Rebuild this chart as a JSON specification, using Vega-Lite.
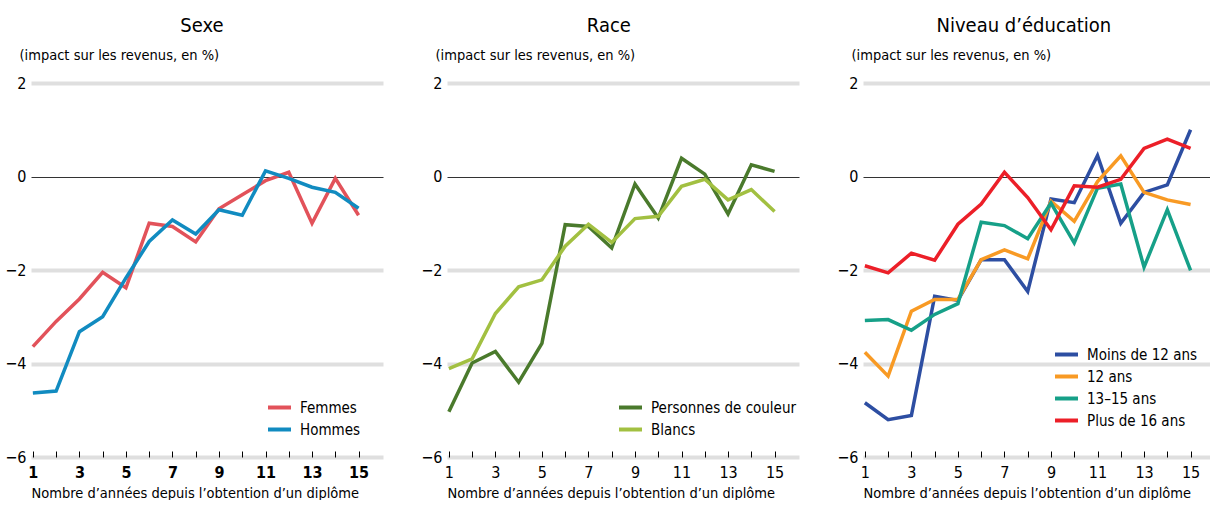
{
  "$schema": "https://vega.github.io/schema/vega-lite/v6.json",
  "padding": {"left": 4, "top": 16, "right": 0, "bottom": 0},
  "background": "white",
  "config": {
    "font": "Liberation Sans Narrow, DejaVu Sans Condensed, sans-serif",
    "view": {"stroke": null},
    "concat": {"spacing": 64},
    "title": {"fontSize": 20, "fontWeight": "normal", "color": "#000", "anchor": "middle", "frame": "bounds", "offset": 11},
    "axis": {"labelColor": "#000", "titleColor": "#000", "titleFontWeight": "normal"},
    "legend": {"labelFontSize": 15, "labelColor": "#000", "labelLimit": 400, "symbolType": "stroke", "symbolSize": 529, "symbolStrokeWidth": 4, "labelOffset": 7, "rowPadding": 0, "title": null, "orient": "none"}
  },
  "bounds": "flush",
  "resolve": {"scale": {"color": "independent", "x": "independent", "y": "independent"}, "legend": {"color": "independent"}},
  "datasets": {
    "sexe": [
      {"annee": 1, "groupe": "Femmes", "valeur": -3.64},
      {"annee": 2, "groupe": "Femmes", "valeur": -3.10},
      {"annee": 3, "groupe": "Femmes", "valeur": -2.62},
      {"annee": 4, "groupe": "Femmes", "valeur": -2.05},
      {"annee": 5, "groupe": "Femmes", "valeur": -2.38},
      {"annee": 6, "groupe": "Femmes", "valeur": -1.00},
      {"annee": 7, "groupe": "Femmes", "valeur": -1.07},
      {"annee": 8, "groupe": "Femmes", "valeur": -1.40},
      {"annee": 9, "groupe": "Femmes", "valeur": -0.69},
      {"annee": 10, "groupe": "Femmes", "valeur": -0.39},
      {"annee": 11, "groupe": "Femmes", "valeur": -0.09},
      {"annee": 12, "groupe": "Femmes", "valeur": 0.09},
      {"annee": 13, "groupe": "Femmes", "valeur": -1.00},
      {"annee": 14, "groupe": "Femmes", "valeur": -0.04},
      {"annee": 15, "groupe": "Femmes", "valeur": -0.83},
      {"annee": 1, "groupe": "Hommes", "valeur": -4.63},
      {"annee": 2, "groupe": "Hommes", "valeur": -4.59},
      {"annee": 3, "groupe": "Hommes", "valeur": -3.32},
      {"annee": 4, "groupe": "Hommes", "valeur": -3.00},
      {"annee": 5, "groupe": "Hommes", "valeur": -2.17},
      {"annee": 6, "groupe": "Hommes", "valeur": -1.39},
      {"annee": 7, "groupe": "Hommes", "valeur": -0.93},
      {"annee": 8, "groupe": "Hommes", "valeur": -1.23},
      {"annee": 9, "groupe": "Hommes", "valeur": -0.71},
      {"annee": 10, "groupe": "Hommes", "valeur": -0.83},
      {"annee": 11, "groupe": "Hommes", "valeur": 0.12},
      {"annee": 12, "groupe": "Hommes", "valeur": -0.04},
      {"annee": 13, "groupe": "Hommes", "valeur": -0.23},
      {"annee": 14, "groupe": "Hommes", "valeur": -0.34},
      {"annee": 15, "groupe": "Hommes", "valeur": -0.68}
    ],
    "race": [
      {"annee": 1, "groupe": "Personnes de couleur", "valeur": -5.03},
      {"annee": 2, "groupe": "Personnes de couleur", "valeur": -3.99},
      {"annee": 3, "groupe": "Personnes de couleur", "valeur": -3.74},
      {"annee": 4, "groupe": "Personnes de couleur", "valeur": -4.40},
      {"annee": 5, "groupe": "Personnes de couleur", "valeur": -3.57},
      {"annee": 6, "groupe": "Personnes de couleur", "valeur": -1.03},
      {"annee": 7, "groupe": "Personnes de couleur", "valeur": -1.07},
      {"annee": 8, "groupe": "Personnes de couleur", "valeur": -1.53},
      {"annee": 9, "groupe": "Personnes de couleur", "valeur": -0.16},
      {"annee": 10, "groupe": "Personnes de couleur", "valeur": -0.89},
      {"annee": 11, "groupe": "Personnes de couleur", "valeur": 0.39},
      {"annee": 12, "groupe": "Personnes de couleur", "valeur": 0.05},
      {"annee": 13, "groupe": "Personnes de couleur", "valeur": -0.80},
      {"annee": 14, "groupe": "Personnes de couleur", "valeur": 0.25},
      {"annee": 15, "groupe": "Personnes de couleur", "valeur": 0.11},
      {"annee": 1, "groupe": "Blancs", "valeur": -4.11},
      {"annee": 2, "groupe": "Blancs", "valeur": -3.90},
      {"annee": 3, "groupe": "Blancs", "valeur": -2.93},
      {"annee": 4, "groupe": "Blancs", "valeur": -2.36},
      {"annee": 5, "groupe": "Blancs", "valeur": -2.21},
      {"annee": 6, "groupe": "Blancs", "valeur": -1.49},
      {"annee": 7, "groupe": "Blancs", "valeur": -1.02},
      {"annee": 8, "groupe": "Blancs", "valeur": -1.41},
      {"annee": 9, "groupe": "Blancs", "valeur": -0.90},
      {"annee": 10, "groupe": "Blancs", "valeur": -0.85},
      {"annee": 11, "groupe": "Blancs", "valeur": -0.21},
      {"annee": 12, "groupe": "Blancs", "valeur": -0.06},
      {"annee": 13, "groupe": "Blancs", "valeur": -0.50},
      {"annee": 14, "groupe": "Blancs", "valeur": -0.28},
      {"annee": 15, "groupe": "Blancs", "valeur": -0.75}
    ],
    "educ": [
      {"annee": 1, "groupe": "Moins de 12 ans", "valeur": -4.84},
      {"annee": 2, "groupe": "Moins de 12 ans", "valeur": -5.20},
      {"annee": 3, "groupe": "Moins de 12 ans", "valeur": -5.11},
      {"annee": 4, "groupe": "Moins de 12 ans", "valeur": -2.56},
      {"annee": 5, "groupe": "Moins de 12 ans", "valeur": -2.65},
      {"annee": 6, "groupe": "Moins de 12 ans", "valeur": -1.78},
      {"annee": 7, "groupe": "Moins de 12 ans", "valeur": -1.78},
      {"annee": 8, "groupe": "Moins de 12 ans", "valeur": -2.46},
      {"annee": 9, "groupe": "Moins de 12 ans", "valeur": -0.48},
      {"annee": 10, "groupe": "Moins de 12 ans", "valeur": -0.56},
      {"annee": 11, "groupe": "Moins de 12 ans", "valeur": 0.45},
      {"annee": 12, "groupe": "Moins de 12 ans", "valeur": -1.00},
      {"annee": 13, "groupe": "Moins de 12 ans", "valeur": -0.34},
      {"annee": 14, "groupe": "Moins de 12 ans", "valeur": -0.18},
      {"annee": 15, "groupe": "Moins de 12 ans", "valeur": 1.00},
      {"annee": 1, "groupe": "12 ans", "valeur": -3.76},
      {"annee": 2, "groupe": "12 ans", "valeur": -4.27},
      {"annee": 3, "groupe": "12 ans", "valeur": -2.88},
      {"annee": 4, "groupe": "12 ans", "valeur": -2.63},
      {"annee": 5, "groupe": "12 ans", "valeur": -2.63},
      {"annee": 6, "groupe": "12 ans", "valeur": -1.78},
      {"annee": 7, "groupe": "12 ans", "valeur": -1.57},
      {"annee": 8, "groupe": "12 ans", "valeur": -1.76},
      {"annee": 9, "groupe": "12 ans", "valeur": -0.53},
      {"annee": 10, "groupe": "12 ans", "valeur": -0.96},
      {"annee": 11, "groupe": "12 ans", "valeur": -0.11},
      {"annee": 12, "groupe": "12 ans", "valeur": 0.44},
      {"annee": 13, "groupe": "12 ans", "valeur": -0.34},
      {"annee": 14, "groupe": "12 ans", "valeur": -0.50},
      {"annee": 15, "groupe": "12 ans", "valeur": -0.60},
      {"annee": 1, "groupe": "13–15 ans", "valeur": -3.08},
      {"annee": 2, "groupe": "13–15 ans", "valeur": -3.06},
      {"annee": 3, "groupe": "13–15 ans", "valeur": -3.29},
      {"annee": 4, "groupe": "13–15 ans", "valeur": -2.95},
      {"annee": 5, "groupe": "13–15 ans", "valeur": -2.72},
      {"annee": 6, "groupe": "13–15 ans", "valeur": -0.98},
      {"annee": 7, "groupe": "13–15 ans", "valeur": -1.05},
      {"annee": 8, "groupe": "13–15 ans", "valeur": -1.33},
      {"annee": 9, "groupe": "13–15 ans", "valeur": -0.57},
      {"annee": 10, "groupe": "13–15 ans", "valeur": -1.42},
      {"annee": 11, "groupe": "13–15 ans", "valeur": -0.25},
      {"annee": 12, "groupe": "13–15 ans", "valeur": -0.16},
      {"annee": 13, "groupe": "13–15 ans", "valeur": -1.94},
      {"annee": 14, "groupe": "13–15 ans", "valeur": -0.71},
      {"annee": 15, "groupe": "13–15 ans", "valeur": -2.01},
      {"annee": 1, "groupe": "Plus de 16 ans", "valeur": -1.91},
      {"annee": 2, "groupe": "Plus de 16 ans", "valeur": -2.06},
      {"annee": 3, "groupe": "Plus de 16 ans", "valeur": -1.64},
      {"annee": 4, "groupe": "Plus de 16 ans", "valeur": -1.79},
      {"annee": 5, "groupe": "Plus de 16 ans", "valeur": -1.02},
      {"annee": 6, "groupe": "Plus de 16 ans", "valeur": -0.59},
      {"annee": 7, "groupe": "Plus de 16 ans", "valeur": 0.09},
      {"annee": 8, "groupe": "Plus de 16 ans", "valeur": -0.45},
      {"annee": 9, "groupe": "Plus de 16 ans", "valeur": -1.14},
      {"annee": 10, "groupe": "Plus de 16 ans", "valeur": -0.20},
      {"annee": 11, "groupe": "Plus de 16 ans", "valeur": -0.23},
      {"annee": 12, "groupe": "Plus de 16 ans", "valeur": -0.06},
      {"annee": 13, "groupe": "Plus de 16 ans", "valeur": 0.60},
      {"annee": 14, "groupe": "Plus de 16 ans", "valeur": 0.80},
      {"annee": 15, "groupe": "Plus de 16 ans", "valeur": 0.60}
    ]
  },
  "hconcat": [
    {
      "width": 352, "height": 374,
      "title": {"text": "Sexe", "dx": 8},
      "data": {"name": "sexe"},
      "mark": {"type": "line", "strokeWidth": 3.5},
      "encoding": {
        "x": {"field": "annee", "type": "quantitative",
          "scale": {"domain": [0.92, 16.05], "nice": false, "zero": false},
          "axis": {"values": [1,2,3,4,5,6,7,8,9,10,11,12,13,14,15], "labelExpr": "datum.value % 2 === 1 ? datum.label : ''", "domain": false, "grid": false, "tickSize": -6, "tickColor": "#000", "labelPadding": 13, "labelFontSize": 16, "labelFontWeight": "bold", "labelFlush": false, "labelOverlap": false, "title": "Nombre d’années depuis l’obtention d’un diplôme", "titleFontSize": 14.5, "titleAnchor": "start", "titleAlign": "left", "titlePadding": 6}},
        "y": {"field": "valeur", "type": "quantitative",
          "scale": {"domain": [-6, 2], "nice": false},
          "axis": {"values": [-6, -4, -2, 0, 2], "domain": false, "ticks": false, "labelPadding": 5, "labelFontSize": 16,
            "gridColor": {"condition": {"test": "datum.value === 0", "value": "#333333"}, "value": "#dfdfdf"},
            "gridWidth": {"condition": {"test": "datum.value === 0", "value": 1.2}, "value": 4},
            "title": "(impact sur les revenus, en %)", "titleFontSize": 14.5, "titleAngle": 0, "titleAlign": "left", "titleBaseline": "alphabetic", "titleX": -12, "titleY": -24}},
        "color": {"field": "groupe", "type": "nominal",
          "scale": {"domain": ["Femmes", "Hommes"], "range": ["#e2525a", "#118bc0"]},
          "legend": {"legendX": 235, "legendY": 311}}
      }
    },
    {
      "width": 352, "height": 374,
      "title": {"text": "Race", "dx": -1},
      "data": {"name": "race"},
      "mark": {"type": "line", "strokeWidth": 3.5},
      "encoding": {
        "x": {"field": "annee", "type": "quantitative",
          "scale": {"domain": [0.92, 16.05], "nice": false, "zero": false},
          "axis": {"values": [1,2,3,4,5,6,7,8,9,10,11,12,13,14,15], "labelExpr": "datum.value % 2 === 1 ? datum.label : ''", "domain": false, "grid": false, "tickSize": -6, "tickColor": "#000", "labelPadding": 13, "labelFontSize": 16, "labelFlush": false, "labelOverlap": false, "title": "Nombre d’années depuis l’obtention d’un diplôme", "titleFontSize": 14.5, "titleAnchor": "start", "titleAlign": "left", "titlePadding": 6}},
        "y": {"field": "valeur", "type": "quantitative",
          "scale": {"domain": [-6, 2], "nice": false},
          "axis": {"values": [-6, -4, -2, 0, 2], "domain": false, "ticks": false, "labelPadding": 5, "labelFontSize": 16,
            "gridColor": {"condition": {"test": "datum.value === 0", "value": "#333333"}, "value": "#dfdfdf"},
            "gridWidth": {"condition": {"test": "datum.value === 0", "value": 1.2}, "value": 4},
            "title": "(impact sur les revenus, en %)", "titleFontSize": 14.5, "titleAngle": 0, "titleAlign": "left", "titleBaseline": "alphabetic", "titleX": -12, "titleY": -24}},
        "color": {"field": "groupe", "type": "nominal",
          "scale": {"domain": ["Personnes de couleur", "Blancs"], "range": ["#4a7a2c", "#a2c041"]},
          "legend": {"legendX": 170, "legendY": 311}}
      }
    },
    {
      "width": 352, "height": 374,
      "title": {"text": "Niveau d’éducation", "dx": -2},
      "data": {"name": "educ"},
      "mark": {"type": "line", "strokeWidth": 3.5},
      "encoding": {
        "x": {"field": "annee", "type": "quantitative",
          "scale": {"domain": [0.92, 16.05], "nice": false, "zero": false},
          "axis": {"values": [1,2,3,4,5,6,7,8,9,10,11,12,13,14,15], "labelExpr": "datum.value % 2 === 1 ? datum.label : ''", "domain": false, "grid": false, "tickSize": -6, "tickColor": "#000", "labelPadding": 13, "labelFontSize": 16, "labelFlush": false, "labelOverlap": false, "title": "Nombre d’années depuis l’obtention d’un diplôme", "titleFontSize": 14.5, "titleAnchor": "start", "titleAlign": "left", "titlePadding": 6}},
        "y": {"field": "valeur", "type": "quantitative",
          "scale": {"domain": [-6, 2], "nice": false},
          "axis": {"values": [-6, -4, -2, 0, 2], "domain": false, "ticks": false, "labelPadding": 5, "labelFontSize": 16,
            "gridColor": {"condition": {"test": "datum.value === 0", "value": "#333333"}, "value": "#dfdfdf"},
            "gridWidth": {"condition": {"test": "datum.value === 0", "value": 1.2}, "value": 4},
            "title": "(impact sur les revenus, en %)", "titleFontSize": 14.5, "titleAngle": 0, "titleAlign": "left", "titleBaseline": "alphabetic", "titleX": -12, "titleY": -24}},
        "color": {"field": "groupe", "type": "nominal",
          "scale": {"domain": ["Moins de 12 ans", "12 ans", "13–15 ans", "Plus de 16 ans"], "range": ["#2d4ea2", "#f89a24", "#16a088", "#ec1f28"]},
          "legend": {"legendX": 190, "legendY": 258}}
      }
    }
  ]
}
